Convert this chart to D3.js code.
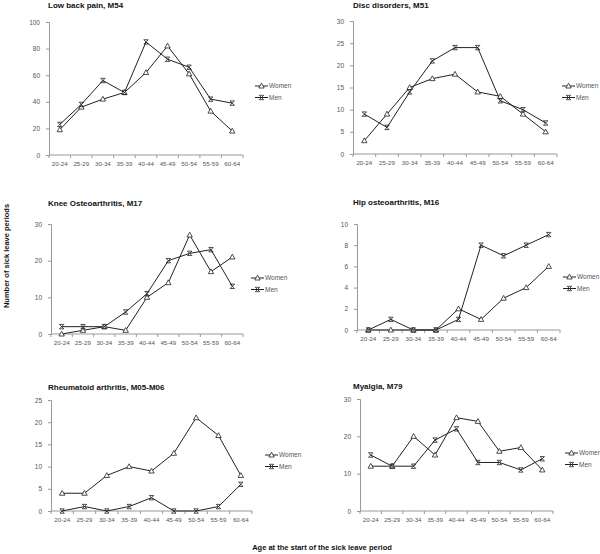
<!DOCTYPE html>
<html><head><meta charset="utf-8">
<script src="https://cdn.jsdelivr.net/npm/d3@7"></script>
<style>body{margin:0;background:#fff}svg{display:block;font-family:"Liberation Sans",Arial,sans-serif}</style>
</head><body>
<svg id="c" width="600" height="554"></svg>
<script>
const ageGroups = ["20-24","25-29","30-34","35-39","40-44","45-49","50-54","55-59","60-64"];
const seriesNames = ["Women","Men"];
const titles = ["Low back pain, M54","Disc disorders, M51","Knee Osteoarthritis, M17","Hip osteoarthritis, M16","Rheumatoid arthritis, M05-M06","Myalgia, M79"];
const lowBackWomen = [19,36,42,47,62,82,61,33,18];
const lowBackMen   = [23,38,56,47,85,72,66,42,39];
const discWomen = [3,9,15,17,18,14,13,9,5];
const discMen   = [9,6,14,21,24,24,12,10,7];
const kneeWomen = [0,1,2,1,10,14,27,17,21];
const kneeMen   = [2,2,2,6,11,20,22,23,13];
const hipWomen = [0,0,0,0,2,1,3,4,6];
const hipMen   = [0,1,0,0,1,8,7,8,9];
const raWomen = [4,4,8,10,9,13,21,17,8];
const raMen   = [0,1,0,1,3,0,0,1,6];
const myalgiaWomen = [12,12,20,15,25,24,16,17,11];
const myalgiaMen   = [15,12,12,19,22,13,13,11,14];
const yTicks = [[0,20,40,60,80,100],[0,5,10,15,20,25,30],[0,10,20,30],[0,2,4,6,8,10],[0,5,10,15,20,25],[0,10,20,30]];
const yLabel = "Number of sick leave periods";
const xLabel = "Age at the start of the sick leave period";

const data = [[lowBackWomen,lowBackMen],[discWomen,discMen],[kneeWomen,kneeMen],[hipWomen,hipMen],[raWomen,raMen],[myalgiaWomen,myalgiaMen]];
const layout = [
  {l:49,r:243,t:22,b:155,tx:48,ty:8,lx:255,ly:86},
  {l:353,r:557,t:21,b:154,tx:353,ty:8,lx:562,ly:86},
  {l:51,r:243,t:224,b:334,tx:48,ty:206,lx:251,ly:278},
  {l:357,r:560,t:224,b:330,tx:353,ty:205,lx:563,ly:277},
  {l:51,r:252,t:400,b:511,tx:48,ty:390,lx:265,ly:455},
  {l:360,r:553,t:399,b:511,tx:353,ty:389,lx:565,ly:453}
];
const svg = d3.select("#c");
const axisCol = "#999", txtCol = "#555";
function marker(g, kind, x, y){
  if(kind===0){
    g.append("path").attr("d",`M${x},${y-2.8}L${x+2.7},${y+2}L${x-2.7},${y+2}Z`).attr("fill","#fff").attr("stroke","#222").attr("stroke-width",0.8);
  } else {
    const s=2.2;
    g.append("path").attr("d",`M${x-s},${y-s}L${x+s},${y+s}M${x+s},${y-s}L${x-s},${y+s}M${x-s},${y-s}L${x+s},${y-s}M${x-s},${y+s}L${x+s},${y+s}`).attr("fill","none").attr("stroke","#222").attr("stroke-width",0.8);
  }
}
layout.forEach((L,i)=>{
  const g = svg.append("g");
  const x = d3.scaleBand().domain(ageGroups).range([L.l,L.r]);
  const ymax = yTicks[i][yTicks[i].length-1];
  const y = d3.scaleLinear().domain([0,ymax]).range([L.b,L.t]);
  const ya = g.append("g").attr("transform",`translate(${L.l},0)`).call(d3.axisLeft(y).tickValues(yTicks[i]).tickSize(3).tickPadding(6));
  ya.select(".domain").attr("stroke",axisCol);
  ya.selectAll(".tick line").attr("stroke",axisCol);
  ya.selectAll("text").attr("fill",txtCol).attr("font-size",6.5);
  const xa = g.append("g").attr("transform",`translate(0,${L.b})`).call(d3.axisBottom(x).tickSize(0).tickPadding(7));
  xa.select(".domain").attr("stroke",axisCol).attr("d",`M${L.l},0H${L.r}`);
  xa.selectAll("text").attr("fill",txtCol).attr("font-size",6.2);
  const bnd = ageGroups.map(a=>x(a)).concat([L.r]);
  g.selectAll(".xt").data(bnd).enter().append("line").attr("x1",d=>d).attr("x2",d=>d).attr("y1",L.b).attr("y2",L.b+3).attr("stroke",axisCol);
  g.append("text").attr("x",L.tx).attr("y",L.ty).attr("font-size",8).attr("font-weight","bold").attr("fill","#111").text(titles[i]);
  const line = d3.line().x((d,k)=>x(ageGroups[k])+x.bandwidth()/2).y(d=>y(d));
  data[i].forEach(vals=>{
    g.append("path").attr("d",line(vals)).attr("fill","none").attr("stroke","#222").attr("stroke-width",1);
  });
  data[i].forEach((vals,s)=>{
    vals.forEach((v,k)=>marker(g,s,x(ageGroups[k])+x.bandwidth()/2,y(v)));
  });
  seriesNames.forEach((nm,s)=>{
    const yy = L.ly + s*11.5;
    g.append("line").attr("x1",L.lx).attr("x2",L.lx+13).attr("y1",yy).attr("y2",yy).attr("stroke","#222");
    marker(g,s,L.lx+6.5,yy);
    g.append("text").attr("x",L.lx+14).attr("y",yy+2.3).attr("font-size",6.5).attr("fill",txtCol).text(nm);
  });
});
svg.append("text").attr("transform","translate(9,256) rotate(-90)").attr("text-anchor","middle").attr("font-size",7.5).attr("font-weight","bold").attr("fill","#111").text(yLabel);
svg.append("text").attr("x",322).attr("y",550).attr("text-anchor","middle").attr("font-size",7.5).attr("font-weight","bold").attr("fill","#111").text(xLabel);
</script>
</body></html>
